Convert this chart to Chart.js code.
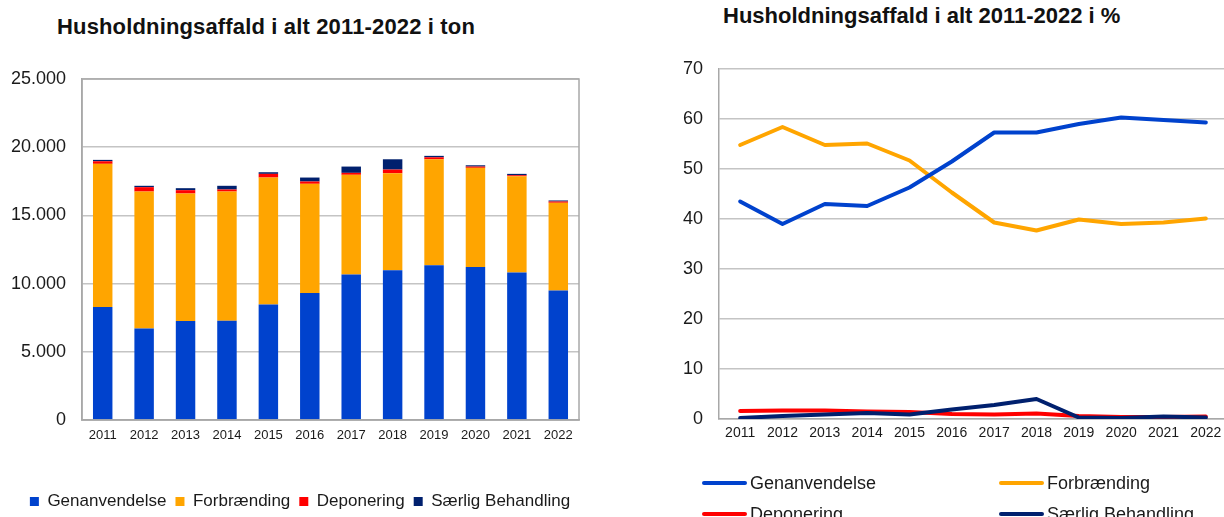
<!DOCTYPE html>
<html>
<head>
<meta charset="utf-8">
<script src="https://cdn.jsdelivr.net/npm/chart.js@4.4.1/dist/chart.umd.min.js"></script>
<style>
  html, body { margin:0; padding:0; width:1224px; height:517px; overflow:hidden; background:#fff; }
  body { position:relative; font-family:'Liberation Sans', Arial, sans-serif; color:#1a1a1a; }
  .title { position:absolute; font-weight:bold; font-size:22px; line-height:22px; white-space:nowrap; color:#111; }
  #wrapL { position:absolute; left:0; top:0; width:600px; height:520px; }
  #wrapR { position:absolute; left:600px; top:0; width:630px; height:517px; }
  .lg { position:absolute; display:flex; align-items:center; font-size:18px; line-height:18px; white-space:nowrap; color:#1a1a1a; }
  .sw { width:45px; height:4px; border-radius:2px; margin-right:3px; }
</style>
</head>
<body>
<div class="title" style="left:57px; top:16px; letter-spacing:0.15px;">Husholdningsaffald i alt 2011-2022 i ton</div>
<div class="title" style="left:723px; top:5px;">Husholdningsaffald i alt 2011-2022 i %</div>
<div id="wrapL"><canvas id="cL" width="600" height="520"></canvas></div>
<div id="wrapR"><canvas id="cR" width="630" height="517"></canvas></div>
<div id="legR"></div>
<script>
// ---- data ----
const years = ['2011','2012','2013','2014','2015','2016','2017','2018','2019','2020','2021','2022'];
const seriesNames = ['Genanvendelse', 'Forbrænding', 'Deponering', 'Særlig Behandling'];

// tons
const tonGenanvendelse = [8290, 6710, 7265, 7270, 8460, 9315, 10660, 10975, 11340, 11215, 10805, 9490];
const tonForbraending  = [10490, 10040, 9340, 9480, 9315, 8000, 7315, 7115, 7775, 7270, 7065, 6435];
const tonDeponering    = [190, 320, 245, 150, 270, 170, 145, 270, 145, 95, 75, 95];
const tonSaerlig       = [100, 100, 145, 270, 120, 290, 460, 755, 105, 95, 100, 75];

// percent
const pctGenanvendelse = [43.5, 39.0, 43.0, 42.6, 46.3, 51.5, 57.3, 57.3, 59.0, 60.3, 59.8, 59.3];
const pctForbraending  = [54.8, 58.4, 54.8, 55.1, 51.7, 45.3, 39.3, 37.7, 39.9, 39.0, 39.3, 40.1];
const pctDeponering    = [1.6, 1.7, 1.7, 1.5, 1.4, 1.0, 0.9, 1.1, 0.6, 0.4, 0.4, 0.5];
const pctSaerlig       = [0.2, 0.6, 0.9, 1.2, 0.9, 1.9, 2.8, 4.0, 0.3, 0.2, 0.5, 0.3];

const colors = ['#0042CD', '#FFA500', '#FF0000', '#00206E'];

Chart.defaults.font.family = "'Liberation Sans', Arial, sans-serif";
Chart.defaults.color = '#1a1a1a';
Chart.defaults.animation = false;

const fmtDK = v => String(v).replace(/\B(?=(\d{3})+(?!\d))/g, '.');

const framePlugin = {
  id: 'frame',
  afterDraw(chart) {
    const a = chart.chartArea, ctx = chart.ctx;
    ctx.save();
    ctx.strokeStyle = '#a8a8a8';
    ctx.lineWidth = 1.5;
    ctx.strokeRect(a.left, a.top, a.right - a.left, a.bottom - a.top);
    ctx.restore();
  }
};

const tonSeries = [tonGenanvendelse, tonForbraending, tonDeponering, tonSaerlig];
new Chart(document.getElementById('cL'), {
  type: 'bar',
  data: {
    labels: years,
    datasets: tonSeries.map((d, i) => ({
      label: seriesNames[i], data: d, backgroundColor: colors[i], borderWidth: 0,
      barPercentage: 0.47, categoryPercentage: 1, yAxisID: 'y'
    }))
  },
  options: {
    responsive: false, devicePixelRatio: 1,
    layout: { padding: { left: 0, right: 0, top: 79, bottom: 0 } },
    plugins: {
      legend: {
        position: 'bottom', align: 'center',
        labels: { boxWidth: 9, boxHeight: 9, padding: 9, font: { size: 17 }, color: '#1a1a1a' }
      },
      tooltip: { enabled: false }
    },
    scales: {
      x: {
        stacked: true,
        grid: { display: false, drawTicks: false },
        border: { color: '#a8a8a8', width: 1.5 },
        ticks: { font: { size: 13 }, padding: 7.5, maxRotation: 0 },
        afterFit: s => { s.height = 64; }
      },
      y: {
        stacked: true, min: 0, max: 25000,
        grid: { color: '#c4c4c4', lineWidth: 1.5, drawTicks: false },
        border: { color: '#a8a8a8', width: 1.5 },
        ticks: { stepSize: 5000, font: { size: 18 }, padding: 16, callback: v => fmtDK(v) },
        afterFit: s => { s.width = 82; }
      },
      yRight: {
        position: 'right', display: true,
        grid: { display: false, drawTicks: false },
        border: { display: false },
        ticks: { display: false },
        afterFit: s => { s.width = 21; }
      }
    }
  },
  plugins: [framePlugin]
});

const pctSeries = [pctGenanvendelse, pctForbraending, pctDeponering, pctSaerlig];
const drawOrder = [0, 1, 3, 2];
new Chart(document.getElementById('cR'), {
  type: 'line',
  data: {
    labels: years,
    datasets: pctSeries.map((d, i) => ({
      label: seriesNames[i], data: d, borderColor: colors[i], backgroundColor: colors[i],
      borderWidth: 4, pointRadius: 0, tension: 0, fill: false,
      borderCapStyle: 'round', borderJoinStyle: 'round', order: drawOrder[i]
    }))
  },
  options: {
    responsive: false, devicePixelRatio: 1,
    layout: { padding: { left: 0, right: 3, top: 69, bottom: 68 } },
    plugins: { legend: { display: false }, tooltip: { enabled: false } },
    scales: {
      x: {
        offset: true,
        grid: { display: false, drawTicks: false },
        border: { color: '#a8a8a8', width: 1.5 },
        ticks: { font: { size: 14 }, padding: 6, maxRotation: 0 },
        afterFit: s => { s.height = 30; }
      },
      y: {
        min: 0, max: 70,
        grid: { color: '#c4c4c4', lineWidth: 1.5, drawTicks: false },
        border: { color: '#a8a8a8', width: 1.5 },
        ticks: { stepSize: 10, font: { size: 18 }, padding: 16 },
        afterFit: s => { s.width = 119; }
      }
    }
  }
});

// HTML legend for the right chart (two columns)
const legPos = [[702, 474], [999, 474], [702, 505], [999, 505]];
const legR = document.getElementById('legR');
seriesNames.forEach((n, i) => {
  const el = document.createElement('div');
  el.className = 'lg';
  el.style.left = legPos[i][0] + 'px';
  el.style.top = legPos[i][1] + 'px';
  el.innerHTML = '<div class="sw" style="background:' + colors[i] + '"></div><span>' + n + '</span>';
  legR.appendChild(el);
});
</script>
</body>
</html>
